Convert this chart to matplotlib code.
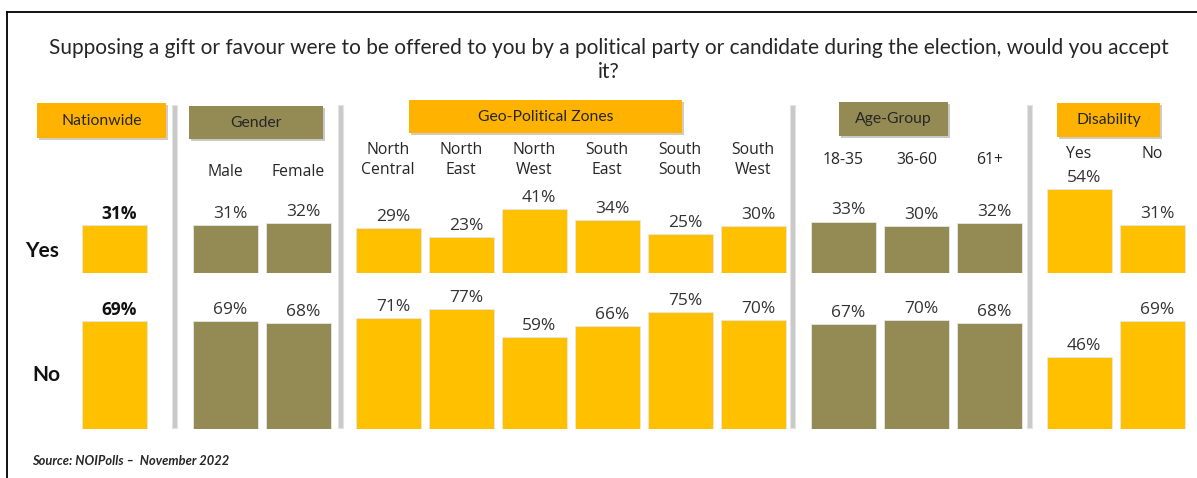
import matplotlib.pyplot as plt
from matplotlib.patches import Rectangle, FancyBboxPatch
import matplotlib.patheffects as pe

# ---- data ----
groups = ["Nationwide", "Gender", "Geo-Political Zones", "Age-Group", "Disability"]
categories = [
    [""],
    ["Male", "Female"],
    ["North\nCentral", "North\nEast", "North\nWest", "South\nEast", "South\nSouth", "South\nWest"],
    ["18-35", "36-60", "61+"],
    ["Yes", "No"],
]
yes_values = [
    [31],
    [31, 32],
    [29, 23, 41, 34, 25, 30],
    [33, 30, 32],
    [54, 31],
]
no_values = [
    [69],
    [69, 68],
    [71, 77, 59, 66, 75, 70],
    [67, 70, 68],
    [46, 69],
]
title = ("Supposing a gift or favour were to be offered to you by a political party or "
         "candidate during the election, would you accept\nit?")
source = "Source: NOIPolls \u2013  November 2022"

# ---- style / layout (pixel coordinates, origin top-left) ----
W, H = 1197, 478
YELLOW = "#FFC000"
OLIVE = "#948A54"
HEAD_YELLOW = "#FFB300"
group_colors = [YELLOW, OLIVE, YELLOW, OLIVE, YELLOW]
header_colors = [HEAD_YELLOW, OLIVE, HEAD_YELLOW, OLIVE, HEAD_YELLOW]
first_center = [114.5, 225.5, 388, 843.5, 1079]
pitch = 73
bar_w = 65
header_boxes = [(37, 103, 129, 35), (189, 106, 134, 33), (409, 100, 273, 33),
                (839, 102, 109, 34), (1057, 103, 103, 34)]
cat_label_y = [None, 172, 160, 160, 154]
separators = [174, 340, 792, 1029]
px_per_pct = 1.56
yes_base, no_base = 273, 429

plt.rcParams["font.family"] = ["Lato", "DejaVu Sans"]

fig = plt.figure(figsize=(W / 100, H / 100), dpi=100)

# overlay axes in pixel coordinates for decorations
deco = fig.add_axes([0, 0, 1, 1])
deco.set_xlim(0, W)
deco.set_ylim(H, 0)
deco.axis("off")


def row_axes(base):
    height = 100 * px_per_pct
    ax = fig.add_axes([0, (H - base) / H, 1, height / H])
    ax.set_xlim(0, W)
    ax.set_ylim(0, 100)
    ax.axis("off")
    ax.patch.set_alpha(0)
    return ax


ax_yes = row_axes(yes_base)
ax_no = row_axes(no_base)

# border
deco.plot([7, W], [12, 12], color="black", lw=1.3)
deco.plot([7, 7], [12, H], color="black", lw=1.3)

deco.text(609, 60, title, ha="center", va="center", fontsize=15,
          color="#262626", linespacing=1.3)

# separators
for sx in separators:
    deco.add_patch(Rectangle((sx - 2.5, 105), 5, 323, facecolor="#C9C9C9",
                             edgecolor="#E3E3E3", lw=0.8))

# headers
for (hx, hy, hw, hh), name, col in zip(header_boxes, groups, header_colors):
    box = FancyBboxPatch((hx, hy), hw, hh, boxstyle="square,pad=0", facecolor=col,
                         edgecolor="none",
                         path_effects=[pe.withSimplePatchShadow(offset=(1.5, -1.5),
                                                                alpha=0.25),
                                       pe.Normal()])
    deco.add_patch(box)
    deco.text(hx + hw / 2, hy + hh / 2, name, ha="center", va="center",
              fontsize=11.3, color="#262626")

# bars
for g in range(len(groups)):
    xs = [first_center[g] + i * pitch for i in range(len(categories[g]))]
    bold = g == 0
    for ax, vals in ((ax_yes, yes_values[g]), (ax_no, no_values[g])):
        ax.bar(xs, vals, width=bar_w, color=group_colors[g], edgecolor="#E6E6E6", lw=0.6)
        for x, v in zip(xs, vals):
            ax.annotate(f"{v}%", (x, v), xytext=(3.6, 8), textcoords="offset points",
                        ha="center", va="center", fontsize=12.5,
                        fontweight="bold" if bold else "normal",
                        color="#111111" if bold else "#333333",
                        family=["Open Sans", "DejaVu Sans"])
    if cat_label_y[g] is not None:
        for x, c in zip(xs, categories[g]):
            deco.text(x, cat_label_y[g], c, ha="center", va="center", fontsize=11.3,
                      color="#262626", linespacing=1.4,
                      family=["Open Sans", "DejaVu Sans"])

# row labels
deco.text(42, 251, "Yes", ha="center", va="center", fontsize=15, fontweight="bold",
          color="#111111")
deco.text(46, 375, "No", ha="center", va="center", fontsize=15, fontweight="bold",
          color="#111111")

deco.text(32, 461, source, ha="left", va="center", fontsize=9.3, fontweight="bold",
          fontstyle="italic", color="#262626")

fig.savefig("out.png", dpi=100)
